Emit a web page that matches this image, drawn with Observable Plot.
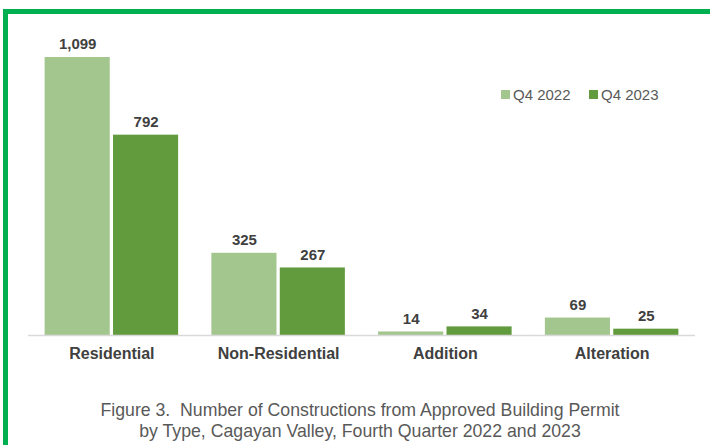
<!DOCTYPE html>
<html><head><meta charset="utf-8">
<script src="https://cdn.jsdelivr.net/npm/d3@7"></script>
<script src="https://cdn.jsdelivr.net/npm/@observablehq/plot@0.6"></script>
<style>
body{margin:0;background:#fff;font-family:"Liberation Sans",Arial,sans-serif;}
#wrap{position:relative;width:710px;height:445px;overflow:hidden;background:#fff;}
#frame{position:absolute;left:3px;top:9px;width:800px;height:500px;border-left:5px solid #00b050;border-top:5px solid #00b050;}
#chart{position:absolute;left:0;top:0;}
.leg{position:absolute;top:86px;font-size:15px;color:#595959;display:flex;align-items:center;white-space:nowrap;}
.leg span.sw{display:inline-block;width:9px;height:9px;margin-right:3px;}
#caption{position:absolute;left:20px;width:680px;top:400px;text-align:center;font-size:17.7px;line-height:21px;color:#595959;}
</style>
</head><body>
<div id="wrap">
<div id="frame"></div>
<div id="chart"></div>
<div id="legend"></div>
<div id="caption">Figure 3.&nbsp; Number of Constructions from Approved Building Permit<br>by Type, Cagayan Valley, Fourth Quarter 2022 and 2023</div>
</div>
<script>
const categories = ["Residential", "Non-Residential", "Addition", "Alteration"];
const series = ["Q4 2022", "Q4 2023"];
const q4_2022 = [1099, 325, 14, 69];
const q4_2023 = [792, 267, 34, 25];
const colors = ["#a3c68f", "#629b3e"];

const data = categories.flatMap((c, i) => [
  {cat: c, s: series[0], v: q4_2022[i]},
  {cat: c, s: series[1], v: q4_2023[i]}
]);

const chart = Plot.plot({
  width: 710, height: 380,
  marginLeft: 28, marginRight: 15, marginTop: 57, marginBottom: 45,
  style: {fontFamily: "'Liberation Sans', Arial, sans-serif", background: "transparent"},
  fx: {domain: categories, padding: 0, round: false, label: null},
  x: {domain: series, paddingInner: 0.048, paddingOuter: 0.243, round: false, axis: null},
  y: {domain: [0, 1099], axis: null},
  color: {domain: series, range: colors},
  marks: [
    Plot.barY(data, {fx: "cat", x: "s", y: "v", fill: "s"}),
    Plot.ruleY([0], {stroke: "#d9d9d9", strokeWidth: 1.5}),
    Plot.text(data, {fx: "cat", x: "s", y: "v", text: d => d3.format(",")(d.v), dy: -13,
      fontWeight: "bold", fontSize: 15, fill: "#404040"}),
    Plot.axisFx({anchor: "bottom", tickSize: 0, tickPadding: 12, fontSize: 16, fontWeight: "bold",
      fill: "#404040", label: null})
  ]
});
document.getElementById("chart").appendChild(chart);

const legend = document.getElementById("legend");
const legX = [501, 589];
series.forEach((s, i) => {
  const d = document.createElement("div");
  d.className = "leg";
  d.style.left = legX[i] + "px";
  d.innerHTML = `<span class="sw" style="background:${colors[i]}"></span>${s}`;
  legend.appendChild(d);
});
</script>
</body></html>
